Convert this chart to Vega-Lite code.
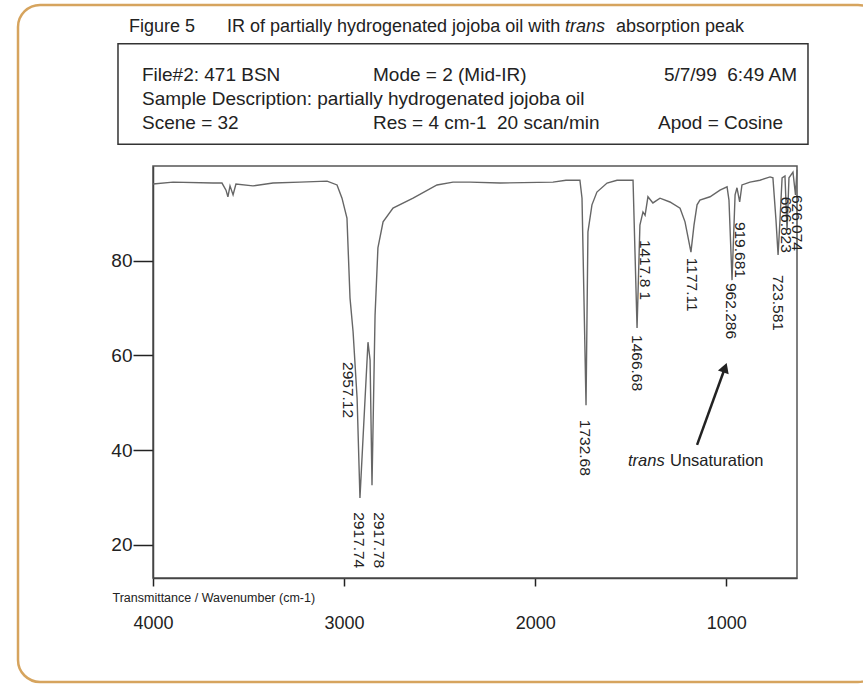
{
  "$schema": "https://vega.github.io/schema/vega-lite/v6.json",
  "width": 644,
  "height": 412,
  "autosize": {"type": "none"},
  "padding": {"left": 153, "top": 166, "right": 66, "bottom": 110},
  "background": "white",
  "config": {
    "font": "Liberation Sans",
    "view": {"stroke": "#555", "strokeWidth": 1.5},
    "axis": {"grid": false, "labelColor": "#222", "domainColor": "#444", "domainWidth": 1.5, "tickColor": "#222", "tickWidth": 1.5, "labelOverlap": false, "labelBound": false, "labelFlush": false}
  },
  "datasets": {
    "spectrum": [
      {"w": 4000, "t": 96.2}, {"w": 3895, "t": 96.6}, {"w": 3686, "t": 96.4}, {"w": 3639, "t": 96.4},
      {"w": 3618, "t": 94.9}, {"w": 3608, "t": 93.5}, {"w": 3597, "t": 95.8}, {"w": 3581, "t": 93.9},
      {"w": 3566, "t": 96.2}, {"w": 3477, "t": 95.8}, {"w": 3372, "t": 96.4}, {"w": 3231, "t": 96.6},
      {"w": 3089, "t": 96.8}, {"w": 3037, "t": 96.0}, {"w": 3011, "t": 93.2}, {"w": 2985, "t": 89.0},
      {"w": 2969, "t": 72.1}, {"w": 2953, "t": 65.0}, {"w": 2932, "t": 51.0}, {"w": 2917, "t": 29.9},
      {"w": 2896, "t": 46.4}, {"w": 2875, "t": 62.8}, {"w": 2864, "t": 59.0}, {"w": 2854, "t": 32.6},
      {"w": 2838, "t": 68.5}, {"w": 2823, "t": 82.7}, {"w": 2796, "t": 88.2}, {"w": 2744, "t": 91.1},
      {"w": 2639, "t": 93.2}, {"w": 2514, "t": 96.0}, {"w": 2430, "t": 96.6}, {"w": 2341, "t": 96.6},
      {"w": 2184, "t": 96.4}, {"w": 1907, "t": 96.6}, {"w": 1839, "t": 97.0}, {"w": 1766, "t": 97.0},
      {"w": 1755, "t": 93.2}, {"w": 1734, "t": 49.5}, {"w": 1724, "t": 86.1}, {"w": 1703, "t": 91.8},
      {"w": 1677, "t": 94.5}, {"w": 1624, "t": 96.4}, {"w": 1572, "t": 97.0}, {"w": 1488, "t": 97.0},
      {"w": 1467, "t": 65.8}, {"w": 1452, "t": 87.5}, {"w": 1436, "t": 90.3}, {"w": 1425, "t": 89.6},
      {"w": 1410, "t": 93.5}, {"w": 1384, "t": 92.2}, {"w": 1347, "t": 93.2}, {"w": 1295, "t": 92.4},
      {"w": 1242, "t": 91.1}, {"w": 1216, "t": 88.2}, {"w": 1185, "t": 81.8}, {"w": 1169, "t": 87.5},
      {"w": 1153, "t": 91.8}, {"w": 1138, "t": 92.8}, {"w": 1085, "t": 93.5}, {"w": 1033, "t": 94.9},
      {"w": 996, "t": 95.6}, {"w": 986, "t": 92.8}, {"w": 970, "t": 75.9}, {"w": 954, "t": 93.9},
      {"w": 944, "t": 95.4}, {"w": 930, "t": 92.4}, {"w": 918, "t": 96.0}, {"w": 876, "t": 96.6},
      {"w": 824, "t": 97.0}, {"w": 771, "t": 97.7}, {"w": 756, "t": 97.5}, {"w": 740, "t": 88.6},
      {"w": 729, "t": 81.2}, {"w": 719, "t": 88.6}, {"w": 708, "t": 97.5}, {"w": 693, "t": 97.9},
      {"w": 682, "t": 86.5}, {"w": 672, "t": 97.5}, {"w": 651, "t": 98.7}, {"w": 638, "t": 93.9},
      {"w": 630, "t": 99.2}
    ],
    "peaks": [
      {"label": "2957.12", "w": 2980, "t": 58.6},
      {"label": "2917.74", "w": 2922, "t": 26.9},
      {"label": "2917.78", "w": 2817, "t": 26.9},
      {"label": "1732.68", "w": 1739, "t": 46.4},
      {"label": "1466.68", "w": 1467, "t": 64.3},
      {"label": "1417.8 1", "w": 1425, "t": 84.4},
      {"label": "1177.11", "w": 1179, "t": 80.6},
      {"label": "962.286", "w": 975, "t": 75.3},
      {"label": "919.681", "w": 928, "t": 88.2},
      {"label": "723.581", "w": 729, "t": 77.0},
      {"label": "666.823", "w": 688, "t": 93.5},
      {"label": "626.074", "w": 630, "t": 93.9}
    ],
    "arrow": [
      {"w": 1153, "t": 41.1, "w2": 1006.8, "t2": 57.4}
    ],
    "frames": [
      {"kind": "border", "w": 4706.4, "w2": 195.6, "t": 134.0, "t2": -8.95},
      {"kind": "box", "w": 4183.2, "w2": 572.5, "t": 125.8, "t2": 104.6}
    ],
    "header": [
      {"text": "File#2: 471 BSN", "w": 4057.6, "t": 119.2, "align": "left"},
      {"text": "Mode = 2 (Mid-IR)", "w": 2848.8, "t": 119.2, "align": "left"},
      {"text": "5/7/99\u00a0\u00a06:49 AM", "w": 630, "t": 119.2, "align": "right"},
      {"text": "Sample Description: partially hydrogenated jojoba oil", "w": 4057.6, "t": 114.1, "align": "left"},
      {"text": "Scene = 32", "w": 4057.6, "t": 109.1, "align": "left"},
      {"text": "Res = 4 cm-1\u00a0\u00a020 scan/min", "w": 2848.8, "t": 109.1, "align": "left"},
      {"text": "Apod = Cosine", "w": 1357.4, "t": 109.1, "align": "left"}
    ],
    "titleParts": [
      {"text": "Figure 5", "w": 4125.6, "t": 129.3, "style": "normal"},
      {"text": "IR of partially hydrogenated jojoba oil with", "w": 3612.8, "t": 129.3, "style": "normal"},
      {"text": "trans", "w": 1844.0, "t": 129.3, "style": "italic"},
      {"text": "absorption peak", "w": 1577.1, "t": 129.3, "style": "normal"}
    ],
    "annot": [
      {"text": "trans", "w": 1514.4, "t": 37.7, "style": "italic"},
      {"text": "Unsaturation", "w": 1294.6, "t": 37.7, "style": "normal"}
    ]
  },
  "encoding": {
    "x": {"field": "w", "type": "quantitative", "scale": {"domain": [4000, 630], "nice": false, "zero": false},
      "axis": {"values": [4000, 3000, 2000, 1000], "format": "d", "tickSize": 8, "labelPadding": 37, "labelBaseline": "middle", "labelFontSize": 18,
        "title": "Transmittance / Wavenumber (cm-1)", "titleX": -41, "titleY": 19, "titleAlign": "left", "titleBaseline": "middle", "titleFontSize": 12.5, "titleFontWeight": "normal", "titleColor": "#222", "titleAngle": 0}},
    "y": {"field": "t", "type": "quantitative", "scale": {"domain": [13, 100], "nice": false, "zero": false},
      "axis": {"values": [20, 40, 60, 80], "tickSize": 20, "labelPadding": 1, "labelFontSize": 19, "title": null}}
  },
  "layer": [
    {
      "data": {"name": "frames"},
      "transform": [{"filter": "datum.kind == 'border'"}],
      "mark": {"type": "rect", "fillOpacity": 0, "stroke": "#d6a45e", "strokeWidth": 2.5, "cornerRadius": 22},
      "encoding": {"x2": {"field": "w2"}, "y2": {"field": "t2"}}
    },
    {
      "data": {"name": "frames"},
      "transform": [{"filter": "datum.kind == 'box'"}],
      "mark": {"type": "rect", "fillOpacity": 0, "stroke": "#333", "strokeWidth": 1.5},
      "encoding": {"x2": {"field": "w2"}, "y2": {"field": "t2"}}
    },
    {
      "data": {"name": "titleParts"},
      "transform": [{"filter": "datum.style == 'normal'"}],
      "mark": {"type": "text", "align": "left", "baseline": "middle", "fontSize": 18, "color": "#222"},
      "encoding": {"text": {"field": "text"}}
    },
    {
      "data": {"name": "titleParts"},
      "transform": [{"filter": "datum.style == 'italic'"}],
      "mark": {"type": "text", "align": "left", "baseline": "middle", "fontSize": 18, "fontStyle": "italic", "color": "#222"},
      "encoding": {"text": {"field": "text"}}
    },
    {
      "data": {"name": "header"},
      "transform": [{"filter": "datum.align == 'left'"}],
      "mark": {"type": "text", "align": "left", "baseline": "middle", "fontSize": 19, "color": "#222"},
      "encoding": {"text": {"field": "text"}}
    },
    {
      "data": {"name": "header"},
      "transform": [{"filter": "datum.align == 'right'"}],
      "mark": {"type": "text", "align": "right", "baseline": "middle", "fontSize": 19, "color": "#222"},
      "encoding": {"text": {"field": "text"}}
    },
    {
      "data": {"name": "spectrum"},
      "mark": {"type": "line", "color": "#666", "strokeWidth": 1.4},
      "encoding": {}
    },
    {
      "data": {"name": "peaks"},
      "mark": {"type": "text", "angle": 90, "align": "left", "baseline": "middle", "fontSize": 15.5, "color": "#222"},
      "encoding": {"text": {"field": "label"}}
    },
    {
      "data": {"name": "arrow"},
      "mark": {"type": "rule", "color": "#222", "strokeWidth": 2.5},
      "encoding": {"x2": {"field": "w2"}, "y2": {"field": "t2"}}
    },
    {
      "data": {"name": "arrow"},
      "mark": {"type": "point", "shape": "triangle-up", "filled": true, "color": "#222", "size": 130, "angle": 20, "opacity": 1},
      "encoding": {"x": {"field": "w2", "type": "quantitative"}, "y": {"field": "t2", "type": "quantitative"}}
    },
    {
      "data": {"name": "annot"},
      "transform": [{"filter": "datum.style == 'normal'"}],
      "mark": {"type": "text", "align": "left", "baseline": "middle", "fontSize": 16.5, "color": "#222"},
      "encoding": {"text": {"field": "text"}}
    },
    {
      "data": {"name": "annot"},
      "transform": [{"filter": "datum.style == 'italic'"}],
      "mark": {"type": "text", "align": "left", "baseline": "middle", "fontSize": 16.5, "fontStyle": "italic", "color": "#222"},
      "encoding": {"text": {"field": "text"}}
    }
  ]
}
